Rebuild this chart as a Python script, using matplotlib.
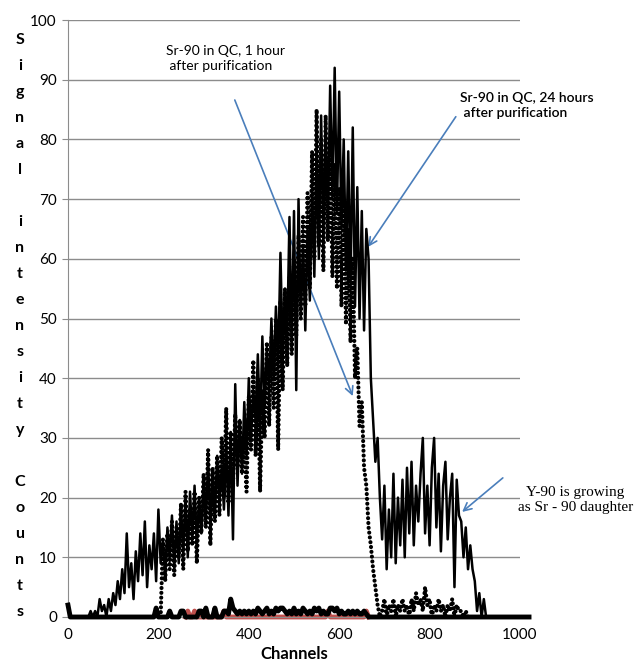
import numpy as np
import matplotlib
matplotlib.use("Agg")
import matplotlib.pyplot as plt

plt.rcParams['font.family'] = ['Lato', 'DejaVu Sans']

# Sr-90 in QC, 24 hours after purification (solid line), channels 40..940 step 5
ch_24h = np.arange(40, 945, 5)
sr90_24h = [
    0, 0, 1, 0, 1, 0, 3, 1, 2, 0,
    3, 1, 4, 2, 6, 3, 8, 4, 14, 5,
    9, 3, 11, 6, 14, 7, 16, 5, 12, 8,
    14, 6, 18, 9, 13, 7, 15, 10, 17, 8,
    16, 9, 18, 11, 20, 10, 21, 13, 22, 12,
    20, 14, 23, 16, 26, 15, 24, 17, 27, 19,
    25, 18, 29, 17, 31, 13, 39, 22, 33, 24,
    36, 27, 40, 30, 38, 33, 44, 31, 47, 35,
    45, 38, 50, 40, 52, 42, 61, 44, 55, 47,
    67, 45, 68, 38, 70, 50, 62, 48, 65, 53,
    72, 57, 78, 60, 84, 64, 82, 66, 89, 70,
    92, 68, 88, 65, 80, 58, 78, 55, 82, 52,
    72, 50, 68, 48, 65, 60, 40, 33, 26, 30,
    20, 13, 22, 8, 18, 10, 24, 9, 20, 12,
    23, 10, 25, 14, 26, 12, 22, 16, 24, 30,
    14, 22, 12, 25, 30, 15, 24, 11, 22, 26,
    13, 20, 24, 5, 23, 17, 16, 10, 15, 8,
    12, 8, 6, 1, 4, 0, 3, 0, 0, 0,
    0,
]

# Sr-90 in QC, 1 hour after purification (dotted), channels 205..885 step 5
ch_1h = np.arange(205, 890, 5)
sr90_1h = [
    0, 13, 6, 14, 8, 16, 7, 15, 10, 19,
    8, 21, 11, 18, 12, 21, 9, 20, 14, 24,
    15, 28, 12, 25, 16, 27, 17, 30, 20, 35,
    19, 31, 22, 34, 25, 33, 24, 30, 21, 37,
    28, 43, 27, 40, 21, 38, 30, 46, 32, 47,
    35, 50, 28, 53, 38, 55, 42, 57, 44, 60,
    47, 64, 50, 67, 52, 71, 55, 78, 60, 85,
    62, 80, 58, 84, 63, 79, 57, 76, 55, 72,
    52, 70, 49, 65, 46, 60, 40, 45, 32, 36,
    25, 22, 15, 12, 8, 5, 2, 0,
    1, 3, 0, 2, 1, 3, 0, 2, 1, 3,
    1, 2, 0, 3, 1, 4, 2, 3, 1, 5,
    2, 3, 0, 2, 1, 3, 1, 2, 0, 2,
    1, 3, 0, 2, 1, 1, 0, 1, 0,
]

# background series near zero (black), channels 0..700 step 5 then 1020
ch_bg = list(range(0, 705, 5)) + [1020]
bg = [
    2, 0, 0, 0, 0, 0, 0, 0, 0, 0,
    0, 0, 0, 0, 0, 0, 0, 0, 0, 0,
    0, 0, 0, 0, 0, 0, 0, 0, 0, 0,
    0, 0, 0, 0, 0, 0, 0, 0, 0, 1.5,
    0, 0, 0, 0, 0, 1, 0, 0, 0, 0,
    1, 1, 0, 0, 0, 0, 0, 0, 1, 1,
    0, 1.5, 0, 0, 0, 1.5, 0, 0, 0, 1,
    1, 0.5, 3, 1.5, 1, 0.5, 1, 0.5, 1, 0.5,
    1, 0.5, 1, 0.5, 1.5, 1, 0.5, 1, 1.5, 0.5,
    1, 0.5, 1.5, 1, 1.5, 1.5, 1, 0.5, 1, 0.5,
    1.5, 0.5, 1, 0.5, 1.5, 1, 0.5, 1, 0.5, 1.5,
    1, 1.5, 0.5, 1, 0.5, 0.5, 1.5, 1.5, 1, 1.5,
    0.5, 1, 0.5, 0.5, 1, 0.5, 1, 0.5, 1, 0.5,
    0.5, 1, 0.5, 0, 0, 0, 0, 0, 0, 0,
    0, 0,
]

# second background series (red), mostly hidden under the black one
ch_red = [260, 265, 270, 275, 280, 285, 340, 345, 350, 570, 575, 580, 655, 660, 665]
red = [0, 1, 0, 0, 1, 0, 0, 1, 0, 0, 1, 0, 0, 1, 0]

fig = plt.figure(figsize=(6.38, 6.65), dpi=100)
ax = fig.add_axes([68 / 638, 1 - 617 / 665, 452 / 638, 597 / 665])

ax.plot(ch_red, red, color='#c0504d', lw=3.5, clip_on=False, zorder=2)
ax.plot(ch_bg, bg, color='black', lw=3.5, clip_on=False, zorder=3)
ax.plot(ch_1h, sr90_1h, color='black', lw=3.0, linestyle=(0, (0.01, 1.15)),
        dash_capstyle='round', zorder=4)
ax.plot(ch_24h, sr90_24h, color='black', lw=1.8, zorder=5)

ax.set_xlim(0, 1000)
ax.set_ylim(0, 100)
ax.set_xticks(range(0, 1001, 200))
ax.set_yticks(range(0, 101, 10))
ax.yaxis.grid(True, color='#8c8c8c', lw=1)
ax.set_axisbelow(True)
for s in ['top', 'right']:
    ax.spines[s].set_visible(False)
ax.spines['left'].set_color('#8c8c8c')
ax.spines['bottom'].set_color('#8c8c8c')
ax.tick_params(axis='y', length=4, color='#8c8c8c', labelsize=11, pad=4)
ax.tick_params(axis='x', length=0, labelsize=11, pad=8)
ax.set_xlabel('Channels', fontsize=12, fontweight='bold', labelpad=3)

# vertical stacked y label
letters = list('Signal') + [''] + list('intensity') + [''] + list('Counts')
for i, c in enumerate(letters):
    if c:
        fig.text(20 / 638, 1 - (40 + 26 * i) / 665, c, ha='center', va='center',
                 fontsize=11.5, fontweight='bold')

arrow = dict(arrowstyle='->', color='#4a7ebb', lw=1.2, shrinkA=0, shrinkB=0,
             mutation_scale=14)
ax.annotate('', xy=(630, 37), xytext=(369, 86.6), arrowprops=arrow)
ax.annotate('', xy=(664, 62), xytext=(858, 83.8), arrowprops=arrow)
ax.annotate('', xy=(872, 17.6), xytext=(962, 23.3), arrowprops=arrow,
            annotation_clip=False)

ax.text(217, 93.5, 'Sr-90 in QC, 1 hour\n after purification', ha='left',
        va='center', fontsize=10, linespacing=1.3)
ax.text(867, 85.6, 'Sr-90 in QC, 24 hours\n after purification', ha='left',
        va='center', fontsize=10, fontweight='semibold', linespacing=1.3,
        clip_on=False)
ax.text(1122, 19.6, 'Y-90 is growing\nas Sr - 90 daughter', ha='center',
        va='center', fontsize=11, family=['Liberation Serif', 'DejaVu Serif'],
        linespacing=1.25, clip_on=False)

fig.savefig('out.png', dpi=100)
